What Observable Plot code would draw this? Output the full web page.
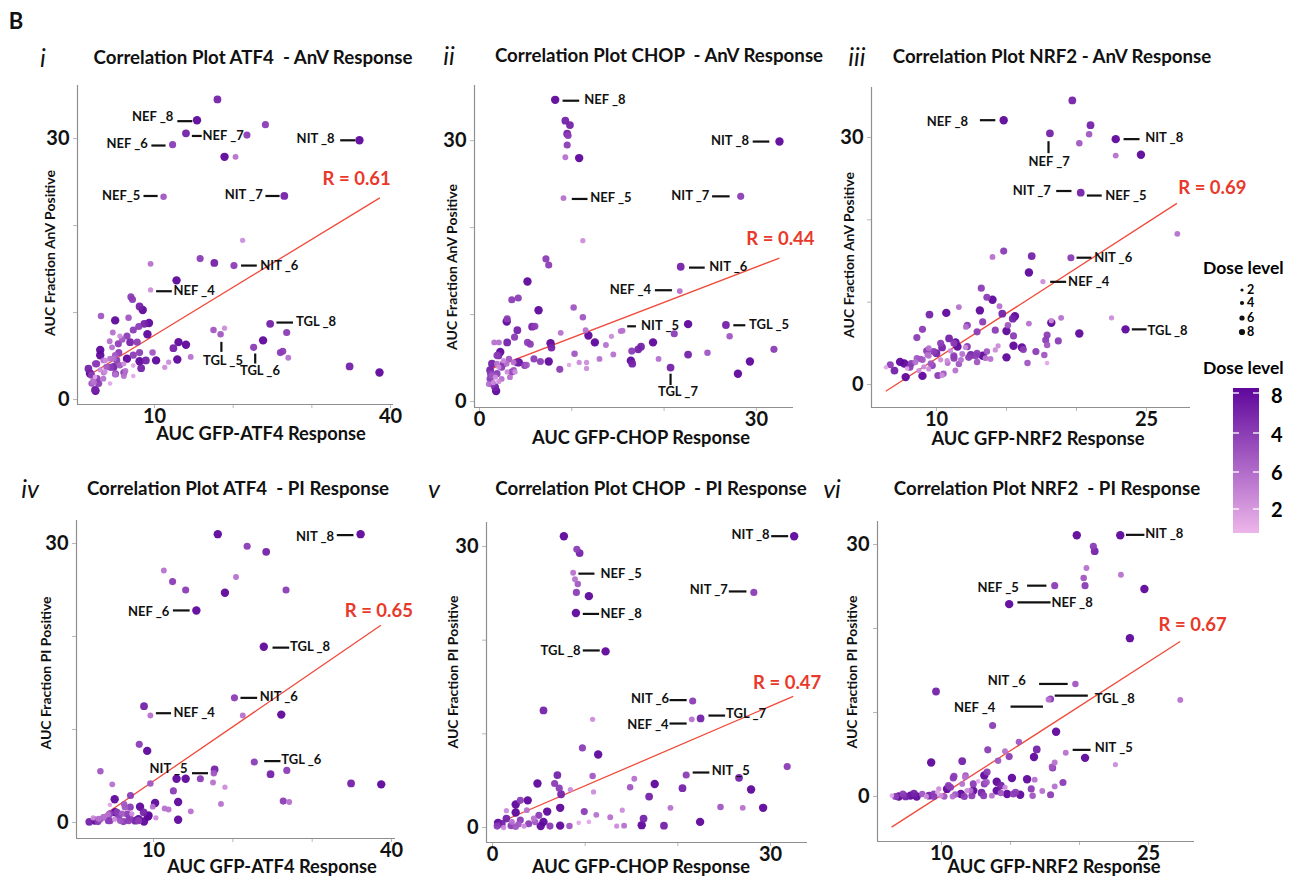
<!DOCTYPE html>
<html><head><meta charset="utf-8">
<script src="https://cdn.jsdelivr.net/npm/d3@7"></script>
<script src="https://cdn.jsdelivr.net/npm/@observablehq/plot@0.6"></script>
<style>
body{margin:0;background:#fff;}
#fig{position:relative;width:1291px;height:876px;overflow:hidden;font-family:Lato,"Open Sans",sans-serif;color:#111;}
.t{position:absolute;white-space:pre;transform:translate(-50%,-50%);font-weight:700;line-height:1;}
.rot{transform:translate(-50%,-50%) rotate(-90deg);}
.num{font-style:italic;font-weight:400;}
.panel{position:absolute;}
</style></head><body><div id="fig"></div><script>
// ---------------- data: [x, y, dose level] ----------------
const atf4AnV = [[18.0,34.5,7],[15.4,32.1,8],[24.1,31.6,6],[14.0,30.6,7],[21.75,30.4,6],[12.3,29.3,6],[36.05,29.8,8],[18.9,27.9,8],[20.3,27.9,4],[11.15,23.3,5],[26.5,23.4,7],[21.2,18.3,3],[15.8,16.2,6],[17.6,15.7,7],[9.5,15.6,4],[20.1,15.4,6],[12.8,13.7,8],[9.5,12.6,3],[7.0,11.8,6],[7.2,11.5,6],[8.1,10.7,7],[8.5,10.3,8],[3.2,9.6,5],[5.0,9.1,8],[6.7,9.4,5],[9.3,8.8,8],[8.7,8.7,7],[8.0,8.4,6],[7.3,8.0,6],[24.7,8.7,7],[17.5,8.0,5],[18.9,8.2,3],[18.4,7.5,5],[26.8,7.7,6],[9.1,7.5,8],[4.7,7.7,4],[6.5,7.3,6],[5.6,7.3,3],[4.3,6.7,4],[5.4,6.4,6],[5.9,6.9,5],[6.9,6.6,7],[7.8,6.6,6],[13.05,6.6,8],[14.0,6.3,8],[12.4,5.9,7],[23.8,6.8,8],[22.6,6.0,6],[26.0,5.4,6],[26.3,5.55,6],[27.0,4.8,4],[9.75,5.4,5],[8.1,5.4,6],[3.1,5.7,8],[3.1,5.1,8],[5.0,5.1,5],[10.2,4.5,8],[12.9,4.6,8],[14.6,4.9,4],[11.8,4.3,3],[11.3,3.7,3],[8.1,4.4,8],[8.9,4.5,7],[8.3,3.6,7],[7.3,3.9,2],[6.1,4.1,3],[6.3,3.3,4],[6.1,2.7,4],[7.3,2.7,2],[5.0,2.9,4],[34.8,3.8,7],[38.6,3.1,8],[2.45,1.15,7],[2.2,2.2,4],[2.0,2.8,6],[2.65,4.1,6],[3.5,4.5,4],[3.9,3.75,5],[3.1,3.4,3],[4.35,4.7,4],[4.8,3.75,7],[2.9,1.85,6],[1.8,3.0,8],[1.6,3.55,7],[2.45,2.6,2],[3.7,3.2,3],[4.35,1.85,2],[5.2,4.5,6],[5.6,3.95,5],[3.5,2.4,4],[2.0,1.85,5],[2.5,1.0,8],[2.3,2.0,4],[2.7,2.4,6],[2.5,4.1,6],[3.77,4.5,3],[4.4,3.7,6],[4.8,4.7,4],[5.04,2.95,6],[5.46,5.4,6],[6.1,3.1,6],[6.5,4.7,8],[7.3,5.1,6],[4.6,6.0,4],[3.55,3.1,4]];
const chopAnV = [[8.2,34.7,8],[9.3,32.3,7],[9.8,31.8,7],[9.5,30.8,7],[9.6,30.6,6],[9.5,29.5,6],[9.3,28.1,4],[10.8,28.0,8],[32.5,29.9,8],[9.1,23.4,4],[28.3,23.6,6],[11.2,18.5,3],[7.2,16.4,6],[7.5,15.7,6],[21.8,15.5,7],[21.7,12.7,4],[5.2,13.8,8],[3.5,11.7,6],[4.2,11.9,6],[10.2,10.8,5],[6.4,10.5,8],[11.2,9.7,5],[3.0,9.5,6],[2.95,9.2,8],[5.7,8.6,7],[6.0,8.65,6],[4.1,8.2,7],[11.5,8.2,4],[8.8,7.9,4],[11.8,7.6,8],[3.8,7.4,6],[1.6,6.8,4],[2.1,6.8,4],[3.0,6.8,7],[5.2,6.8,6],[5.5,6.6,6],[7.7,6.7,8],[7.8,6.2,7],[12.5,6.8,8],[13.7,6.5,4],[14.3,7.5,3],[15.3,8.1,4],[15.5,8.15,4],[22.6,8.9,8],[21.1,7.8,6],[26.7,8.8,7],[27.1,7.5,5],[18.8,6.8,8],[17.5,6.3,7],[17.2,6.0,7],[16.5,5.8,6],[16.4,4.7,8],[16.55,4.35,7],[14.5,5.4,4],[13.0,4.9,4],[10.3,5.5,5],[10.8,4.5,3],[11.6,4.5,3],[11.6,3.8,3],[9.7,4.2,2],[8.7,3.7,6],[7.5,4.6,8],[6.6,4.6,6],[5.9,4.9,6],[5.1,4.2,5],[4.9,4.15,6],[4.1,4.5,7],[19.4,4.9,4],[20.7,3.9,7],[22.6,5.4,7],[24.7,5.6,5],[28.0,3.2,8],[29.3,4.6,8],[31.9,6.0,6],[1.8,1.2,8],[1.7,1.65,7],[1.35,4.35,7],[1.9,3.2,6],[1.15,2.6,6],[1.0,2.0,4],[2.25,5.7,8],[2.05,5.3,7],[2.6,4.7,3],[2.95,4.35,4],[3.3,2.8,4],[3.7,3.6,5],[3.85,3.4,3],[1.15,3.6,7],[1.5,2.2,3],[2.4,3.95,6],[1.9,4.35,4],[1.35,3.0,5],[2.4,2.6,4],[1.37,2.0,6],[1.19,3.2,6],[1.9,5.3,6],[2.1,3.96,3],[2.6,4.35,6],[3.0,3.4,3],[3.5,3.4,6],[3.7,4.5,4],[1.73,2.8,3],[2.1,2.3,3],[4.26,4.5,8],[3.2,4.9,5]];
const nrf2AnV = [[19.7,34.5,7],[14.8,32.1,8],[21.0,31.5,7],[18.1,30.5,7],[20.9,30.4,5],[20.2,29.3,5],[22.8,29.8,8],[22.8,27.8,4],[24.6,27.9,8],[20.3,23.3,7],[27.2,18.3,4],[14.8,16.2,6],[14.0,15.5,4],[16.8,15.6,7],[19.6,15.4,6],[16.6,13.6,8],[17.6,12.5,3],[13.2,11.7,6],[13.6,10.6,6],[14.0,10.3,8],[14.5,9.5,4],[11.6,9.4,4],[9.5,8.5,7],[10.7,8.7,8],[13.1,9.0,8],[14.7,8.6,7],[15.6,8.3,8],[15.45,8.0,7],[16.6,7.4,4],[18.2,7.5,8],[18.2,7.75,3],[18.9,8.1,4],[22.5,8.1,3],[23.5,6.7,8],[20.2,6.2,8],[13.3,7.6,6],[12.2,7.2,6],[12.1,7.0,4],[14.2,6.6,6],[15.0,6.5,8],[15.1,7.2,5],[12.9,6.4,6],[15.5,5.9,6],[17.9,6.0,6],[17.8,5.4,6],[18.7,5.3,6],[9.0,6.7,6],[8.6,5.7,6],[10.9,5.6,7],[10.3,5.0,6],[11.25,5.0,6],[9.45,4.4,4],[11.5,4.6,8],[15.5,4.7,8],[16.1,4.5,8],[16.2,4.25,6],[17.9,4.8,5],[17.1,4.0,6],[17.7,3.6,5],[14.4,4.7,3],[14.2,4.2,3],[13.6,4.0,5],[12.9,3.8,6],[12.45,3.6,7],[15.0,3.3,8],[13.5,3.2,4],[12.9,2.75,5],[16.5,2.6,5],[17.9,2.6,2],[6.7,2.4,6],[7.0,1.7,7],[7.4,2.75,8],[7.7,2.55,8],[7.8,0.9,8],[8.2,2.55,6],[9.0,1.05,8],[10.1,1.1,6],[10.5,1.3,5],[8.6,3.2,5],[9.35,3.6,4],[9.8,4.0,6],[10.3,3.0,3],[10.8,2.6,4],[11.25,3.2,6],[11.75,3.0,4],[9.1,2.15,3],[7.9,1.95,2],[9.6,2.55,5],[6.4,2.1,2],[12.2,4.6,6],[8.1,2.1,6],[8.5,2.7,4],[8.85,3.1,5],[9.3,4.1,6],[9.45,3.5,4],[9.7,2.3,6],[10.4,4.5,7],[10.76,2.9,3],[11.0,4.1,3],[11.24,3.5,6],[11.36,5.1,8],[11.6,2.5,5],[11.84,3.7,4],[12.07,4.5,3],[12.3,3.3,6],[12.8,3.5,6],[13.3,3.5,8],[13.86,3.1,4],[10.4,1.1,3],[11.35,1.7,4],[8.75,1.7,3],[9.45,1.9,3],[10.0,3.8,7],[9.0,3.0,5]];
const atf4PI = [[18.1,31.0,8],[36.1,31.0,8],[21.8,29.7,6],[24.2,29.1,7],[11.3,27.1,4],[12.4,25.9,6],[20.4,26.4,4],[14.05,25.0,6],[26.7,25.0,6],[19.0,24.7,8],[15.4,22.8,8],[23.9,18.9,8],[20.2,13.4,6],[8.8,12.5,7],[9.6,11.5,4],[21.25,11.5,4],[26.1,11.6,8],[8.2,8.4,6],[9.2,7.7,8],[22.7,6.5,6],[24.75,5.2,7],[26.8,5.6,6],[3.3,5.5,5],[17.7,5.7,7],[17.6,5.3,5],[12.9,4.7,8],[14.05,4.7,8],[15.9,4.7,6],[17.5,4.3,4],[19.0,3.8,3],[9.6,4.2,5],[4.8,4.1,4],[34.9,4.2,7],[38.7,4.1,8],[12.5,3.4,6],[7.1,2.9,6],[5.1,2.5,8],[10.2,2.1,8],[13.1,2.2,8],[18.5,2.0,4],[26.35,2.3,6],[27.1,2.2,4],[4.5,1.9,2],[6.3,1.95,5],[8.3,1.7,8],[8.75,1.1,7],[9.3,0.65,8],[9.9,1.7,4],[11.4,1.5,4],[11.9,1.4,4],[14.7,1.2,4],[10.3,0.5,3],[13.1,0.3,8],[6.7,0.9,6],[5.4,1.1,6],[1.9,0.07,7],[2.6,0.2,8],[3.3,0.35,5],[3.7,0.6,4],[4.5,0.2,6],[5.1,0.35,3],[5.8,0.2,5],[6.2,0.1,6],[7.7,0.2,7],[8.1,0.35,8],[4.3,0.9,4],[2.4,0.5,3],[3.0,0.1,6],[7.0,0.5,6],[8.8,0.1,8],[3.07,0.4,4],[3.7,0.57,5],[4.3,0.2,6],[4.5,0.93,6],[5.17,1.1,8],[5.6,0.57,6],[6.0,0.93,5],[6.85,0.2,6],[7.26,0.93,3],[8.1,0.2,6],[9.37,0.75,8],[7.06,1.65,6],[6.4,1.65,5]];
const chopPI = [[7.7,31.1,8],[32.55,31.1,8],[9.1,29.7,6],[9.4,29.3,7],[8.7,27.2,4],[8.9,26.5,4],[9.2,26.0,5],[9.05,25.1,6],[10.4,24.7,8],[28.2,25.1,6],[9.0,22.9,8],[12.2,18.8,8],[21.6,13.5,6],[5.5,12.5,7],[10.8,11.55,3],[21.5,11.55,4],[22.45,11.65,7],[9.7,8.5,6],[11.4,7.8,8],[31.8,6.5,6],[20.9,5.6,6],[26.6,5.3,7],[7.0,5.6,7],[10.8,5.5,5],[4.85,4.7,8],[6.7,4.7,6],[7.2,4.2,6],[7.4,3.55,7],[8.4,4.05,3],[10.9,3.8,3],[15.3,5.2,4],[14.85,4.3,5],[17.5,4.65,8],[16.9,3.3,7],[20.5,4.2,7],[27.9,4.05,8],[24.6,2.2,5],[27.0,2.1,4],[29.2,2.1,8],[19.2,2.1,4],[22.4,0.6,8],[18.5,0.2,7],[16.1,0.25,8],[16.3,0.95,7],[14.2,0.2,4],[13.4,0.15,3],[14.0,1.85,3],[12.7,1.1,4],[11.2,1.35,4],[10.4,0.6,2],[9.3,0.5,2],[9.9,1.7,6],[8.3,0.15,5],[7.3,2.1,8],[7.3,0.2,8],[5.9,1.7,8],[5.5,0.6,8],[5.2,0.15,8],[6.2,0.15,6],[2.5,2.45,8],[3.0,2.9,6],[3.8,2.9,8],[2.5,1.6,8],[3.7,1.85,4],[5.0,1.3,6],[4.6,0.6,5],[1.5,1.8,3],[0.5,0.15,6],[1.0,0.4,7],[1.5,0.96,7],[2.1,0.6,4],[2.5,0.07,5],[3.0,0.8,6],[3.4,0.15,3],[3.9,0.4,6],[4.45,0.96,4],[1.2,0.0,3],[0.6,0.5,8],[2.0,0.2,6],[2.8,0.35,5]];
const nrf2PI = [[19.8,31.1,8],[22.95,31.1,8],[21.0,29.8,6],[21.1,29.2,7],[20.5,27.2,4],[23.0,26.4,4],[20.3,26.0,5],[18.2,25.1,6],[20.4,25.1,6],[24.7,24.7,8],[14.9,22.9,8],[23.65,18.85,8],[19.7,13.4,5],[17.9,11.6,6],[17.75,11.55,4],[27.3,11.5,4],[9.6,12.5,7],[13.7,8.45,6],[18.3,7.7,8],[15.6,6.5,5],[13.35,5.55,6],[14.6,5.4,4],[16.9,5.6,7],[19.0,5.2,4],[20.4,4.6,8],[22.6,3.8,3],[9.25,4.05,8],[11.5,4.2,7],[14.1,4.25,5],[14.9,4.75,6],[16.7,4.7,8],[18.2,4.05,4],[18.05,3.4,6],[18.0,3.55,5],[13.3,2.9,6],[13.1,2.5,8],[11.7,2.3,4],[10.85,2.2,6],[15.1,2.2,8],[16.2,2.05,8],[16.75,2.0,4],[18.8,1.67,6],[14.0,1.75,8],[14.3,1.3,7],[13.1,1.5,6],[12.65,1.8,2],[16.5,0.9,6],[17.3,0.65,4],[18.2,1.2,4],[17.9,0.2,6],[16.6,0.1,5],[15.7,0.2,8],[15.2,0.3,6],[14.75,0.3,8],[14.0,0.7,8],[13.65,0.1,4],[13.05,0.1,6],[12.3,0.7,8],[12.2,0.1,6],[11.85,0.7,3],[11.4,0.3,8],[11.0,0.25,5],[10.4,0.9,8],[10.5,1.3,6],[9.95,0.1,3],[9.7,0.5,2],[9.1,0.1,7],[8.6,0.3,5],[8.2,0.0,8],[7.75,0.1,8],[7.4,0.0,7],[6.9,0.0,8],[6.67,0.0,6],[6.4,0.1,2],[8.9,0.0,3],[9.45,0.0,6],[10.2,0.0,5],[10.8,0.0,4],[11.65,0.0,6],[10.9,2.4,6],[11.74,2.5,5],[11.5,1.5,4],[10.65,1.1,6],[9.8,0.9,3],[12.3,1.5,6],[13.26,1.7,5],[14.6,1.1,3],[12.1,0.7,4],[15.36,0.5,6],[9.44,0.3,6],[8.0,0.35,7],[7.2,0.3,6],[12.9,0.45,7],[14.3,0.4,5]];

// ---------------- point labels: [text, textX, textY, lineX1, lineY1, lineX2, lineY2] ----------------
const atf4AnVLabels = [["NEF _8",12.4,32.5,12.9,32.0,14.8,32.0],["NEF _6",9.15,29.4,9.6,29.2,11.4,29.2],["NEF _7",16.1,30.3,14.75,30.3,16.0,30.3],["NIT _8",32.9,30.0,33.6,29.8,35.5,29.8],["NEF_5",8.2,23.4,8.6,23.4,10.4,23.4],["NIT _7",23.75,23.5,24.1,23.4,25.9,23.4],["NIT _6",23.45,15.4,21.0,15.4,23.0,15.4],["NEF _4",12.4,12.45,10.2,12.45,12.2,12.45],["TGL _8",28.0,8.95,25.5,8.85,27.6,8.85],["TGL _5",18.7,4.5,18.5,6.63,18.5,5.48],["TGL _6",23.4,3.26,22.8,5.29,22.8,4.14]];
const chopAnVLabels = [["NEF _8",11.35,34.7,9.0,34.6,10.8,34.6],["NIT _8",29.2,30.0,29.6,29.9,31.4,29.9],["NEF _5",12.0,23.4,10.0,23.3,11.7,23.3],["NIT _7",24.9,23.7,25.2,23.6,27.1,23.6],["NIT _6",24.9,15.5,22.7,15.4,24.4,15.4],["NEF _4",18.6,12.9,19.0,12.8,20.85,12.8],["NIT _5",17.5,8.65,16.0,8.65,16.95,8.65],["TGL _5",29.2,8.77,27.5,8.77,28.8,8.77],["TGL _7",21.5,1.15,20.7,3.2,20.7,1.9]];
const nrf2AnVLabels = [["NEF _8",12.26,31.9,13.1,32.1,14.2,32.1],["NIT _8",24.9,30.0,23.36,29.8,24.5,29.8],["NEF _7",18.05,27.0,18.0,29.55,18.0,28.1],["NIT _7",18.17,23.5,18.55,23.5,19.64,23.5],["NEF _5",22.05,22.9,20.74,22.95,21.8,22.95],["NIT _6",21.26,15.4,20.0,15.4,21.07,15.4],["NEF _4",19.4,12.47,18.12,12.47,19.26,12.47],["TGL _8",25.07,6.5,23.95,6.7,25.0,6.7]];
const atf4PILabels = [["NIT _8",32.76,30.7,33.1,30.9,35.2,30.9],["NEF _6",12.0,22.7,12.44,22.8,14.55,22.8],["TGL _8",27.2,18.9,25.0,18.8,27.1,18.8],["NIT _6",23.4,13.5,20.96,13.4,23.06,13.4],["NEF _4",12.53,11.75,10.3,11.75,12.2,11.75],["TGL _6",26.1,6.7,23.95,6.6,26.0,6.6],["NIT _5",14.3,5.75,14.85,5.3,16.87,5.3]];
const chopPILabels = [["NIT _8",29.9,31.25,30.07,31.1,31.9,31.1],["NEF _5",11.64,27.1,9.27,27.1,11.0,27.1],["NIT _7",25.4,25.4,25.5,25.2,27.4,25.2],["NEF _8",11.64,22.8,9.74,22.8,11.5,22.8],["TGL _8",9.5,18.9,9.74,18.9,11.57,18.9],["NIT _6",19.05,13.7,19.1,13.6,20.95,13.6],["NEF _4",19.0,11.0,19.1,11.1,20.95,11.1],["TGL _7",25.2,12.1,23.3,11.95,25.1,11.95],["NIT _5",23.65,6.0,21.6,5.87,23.4,5.87]];
const nrf2PILabels = [["NIT _8",24.76,31.3,23.36,31.15,24.7,31.15],["NEF _5",15.6,24.9,16.2,25.1,17.6,25.1],["NEF _8",17.96,23.05,15.5,23.1,17.9,23.1],["NIT _6",16.1,13.8,17.07,13.4,19.14,13.4],["TGL _8",21.1,11.6,18.2,12.0,20.6,12.0],["NEF _4",13.9,10.5,15.0,10.7,17.35,10.7],["NIT _5",21.1,5.75,19.5,5.55,20.8,5.55]];

// ---------------- fitted lines [x1,y1,x2,y2] and R values ----------------
const fitLines = {atf4AnV:[2.02,3.0,38.64,23.18], chopAnV:[0.98,3.65,32.5,16.5], nrf2AnV:[6.38,-0.81,27.17,22.0], atf4PI:[2.2,-0.1,38.66,21.2], chopPI:[0.51,0.43,32.45,14.0], nrf2PI:[6.38,-3.65,27.29,18.45]};
const rValues = {atf4AnV:0.61, chopAnV:0.44, nrf2AnV:0.69, atf4PI:0.65, chopPI:0.47, nrf2PI:0.67};
const rPos = {atf4AnV:[35.7,25.4], chopAnV:[32.6,18.7], nrf2AnV:[29.7,23.8], atf4PI:[38.4,22.7], chopPI:[31.8,15.4], nrf2PI:[28.2,20.4]};

// ---------------- tick labels ----------------
const ticksATF4 = [10,20,30,40], labelsATF4 = [10,40];
const ticksCHOP = [0,10,20,30], labelsCHOP = [0,30];
const ticksNRF2 = [10,15,20,25], labelsNRF2 = [10,25];
const ticksY = [0,10,20,30], labelsY = [0,30];

const doseLevels = [2,4,6,8];
const colorbarLabels = ["8","4","6","2"];

const fig = document.getElementById("fig");
function txt(s, cx, cy, size, cls=""){
  const d=document.createElement("div"); d.className="t "+cls; d.textContent=s;
  d.style.left=cx+"px"; d.style.top=cy+"px"; d.style.fontSize=size+"px"; fig.appendChild(d);
}

const panels = [
  {key:"atf4AnV", pts:atf4AnV, labels:atf4AnVLabels, frame:[77,393,85,404], xDomain:[0.21,40.38], yDomain:[-0.57,36.1], xTicks:ticksATF4, xLab:labelsATF4},
  {key:"chopAnV", pts:chopAnV, labels:chopAnVLabels, frame:[474,793,85,407], xDomain:[-0.54,34.02], yDomain:[-0.69,36.35], xTicks:ticksCHOP, xLab:labelsCHOP},
  {key:"nrf2AnV", pts:nrf2AnV, labels:nrf2AnVLabels, frame:[871,1190,87,407], xDomain:[5.36,28.14], yDomain:[-2.79,36.07], xTicks:ticksNRF2, xLab:labelsNRF2},
  {key:"atf4PI", pts:atf4PI, labels:atf4PILabels, frame:[76,395,520,838], xDomain:[0.29,40.5], yDomain:[-1.72,32.47], xTicks:ticksATF4, xLab:labelsATF4},
  {key:"chopPI", pts:chopPI, labels:chopPILabels, frame:[486,807,522,842], xDomain:[-0.65,33.99], yDomain:[-1.6,32.56], xTicks:ticksCHOP, xLab:labelsCHOP},
  {key:"nrf2PI", pts:nrf2PI, labels:nrf2PILabels, frame:[877,1194,521,841], xDomain:[5.36,28.33], yDomain:[-5.36,32.74], xTicks:ticksNRF2, xLab:labelsNRF2}
];

const ML=45, MR=80, MT=10, MB=35;
for (const p of panels){
  const fw=p.frame[1]-p.frame[0], fh=p.frame[3]-p.frame[2];
  const pts=p.pts.map(([x,y,dose])=>({x,y,dose}));
  const labs=p.labels.map(([text,tx,ty,x1,y1,x2,y2])=>({text,tx,ty,x1,y1,x2,y2,anchor:x1===x2?"middle":(tx<=x1?"end":"start")}));
  const f=fitLines[p.key];
  const fit=[{x1:f[0],y1:f[1],x2:f[2],y2:f[3]}];
  const rl=[{x:rPos[p.key][0],y:rPos[p.key][1],text:"R = "+rValues[p.key].toFixed(2)}];
  const lt={fontSize:13,fontWeight:"bold",fill:"#111"};
  const svg=Plot.plot({
    width:ML+fw+MR, height:MT+fh+MB,
    marginLeft:ML, marginRight:MR, marginTop:MT, marginBottom:MB,
    style:{background:"transparent",overflow:"visible",fontFamily:"Lato, 'Open Sans', sans-serif"},
    x:{domain:p.xDomain,label:null},
    y:{domain:p.yDomain,label:null},
    r:{type:"linear",domain:[2,8],range:[2.3,4.2]},
    color:{type:"linear",domain:[2,8],range:["#e2a6e7","#5f079c"]},
    marks:[
      Plot.axisX({ticks:p.xTicks,tickFormat:d=>p.xLab.includes(d)?String(d):"",tickSize:4,tickPadding:0,stroke:"#b8b8b8",fill:"#111",fontSize:20,fontWeight:"bold",label:null}),
      Plot.axisY({ticks:ticksY,tickFormat:d=>labelsY.includes(d)?String(d):"",tickSize:4,tickPadding:4,stroke:"#b8b8b8",fill:"#111",fontSize:20,fontWeight:"bold",label:null}),
      Plot.ruleX([p.xDomain[0]],{stroke:"#8f8f8f",strokeWidth:1.2}),
      Plot.ruleY([p.yDomain[0]],{stroke:"#8f8f8f",strokeWidth:1.2}),
      Plot.link(fit,{x1:"x1",y1:"y1",x2:"x2",y2:"y2",stroke:"#f04a3a",strokeWidth:1.3}),
      Plot.dot(pts,{x:"x",y:"y",r:"dose",fill:"dose",fillOpacity:0.95}),
      Plot.link(labs,{x1:"x1",y1:"y1",x2:"x2",y2:"y2",stroke:"#111",strokeWidth:2.2}),
      Plot.text(labs.filter(d=>d.anchor==="end"),{x:"tx",y:"ty",text:"text",textAnchor:"end",...lt}),
      Plot.text(labs.filter(d=>d.anchor==="start"),{x:"tx",y:"ty",text:"text",textAnchor:"start",...lt}),
      Plot.text(labs.filter(d=>d.anchor==="middle"),{x:"tx",y:"ty",text:"text",textAnchor:"middle",...lt}),
      Plot.text(rl,{x:"x",y:"y",text:"text",fill:"#e8392b",fontSize:18.5,fontWeight:"bold"})
    ]
  });
  svg.classList.add("panel");
  svg.style.left=(p.frame[0]-ML)+"px";
  svg.style.top=(p.frame[2]-MT)+"px";
  fig.appendChild(svg);
}

// ---------------- texts ----------------
txt("B",16,21,22);
const numerals=[["i",43,57],["ii",449,55],["iii",857,56],["iv",30,488],["v",434,488],["vi",832,488]];
for (const [s,x,y] of numerals) txt(s,x,y,25,"num");
const titles=[["Correlation Plot ATF4  - AnV Response",253,57],["Correlation Plot CHOP  - AnV Response",659,55],["Correlation Plot NRF2 - AnV Response",1052,56],["Correlation Plot ATF4  - PI Response",238,488],["Correlation Plot CHOP  - PI Response",651,488],["Correlation Plot NRF2  - PI Response",1047,488]];
for (const [s,x,y] of titles) txt(s,x,y,18.7);
const yTitles=[["AUC Fraction AnV Positive",50,253],["AUC Fraction AnV Positive",452,267],["AUC Fraction AnV Positive",849,255],["AUC Fraction PI Positive",46,673],["AUC Fraction PI Positive",453,672],["AUC Fraction PI Positive",852,672]];
for (const [s,x,y] of yTitles) txt(s,x,y,14,"rot");
const xTitles=[["AUC GFP-ATF4 Response",261,433],["AUC GFP-CHOP Response",641,437],["AUC GFP-NRF2 Response",1038,438],["AUC GFP-ATF4 Response",272,866],["AUC GFP-CHOP Response",641,866],["AUC GFP-NRF2 Response",1054,866]];
for (const [s,x,y] of xTitles) txt(s,x,y,18.3);

// ---------------- legends ----------------
const lg=d3.select(fig).append("svg").attr("class","panel").style("left","1190px").style("top","250px")
  .attr("width",101).attr("height",300).style("font-family","Lato, sans-serif").style("font-weight","bold");
const ox=1190, oy=250;
lg.append("text").attr("x",1203-ox).attr("y",268-oy).attr("dy","0.35em").attr("font-size",17.5).text("Dose level");
const rs=d3.scaleLinear().domain([2,8]).range([1.6,3.1]);
const ys=[290,303,318,332];
doseLevels.forEach((d,i)=>{
  lg.append("circle").attr("cx",1242-ox).attr("cy",ys[i]-oy).attr("r",rs(d)).attr("fill","#111");
  lg.append("text").attr("x",1247-ox).attr("y",ys[i]-oy).attr("dy","0.35em").attr("font-size",12.5).text(d);
});
lg.append("text").attr("x",1203-ox).attr("y",368-oy).attr("dy","0.35em").attr("font-size",17.5).text("Dose level");
const grad=lg.append("defs").append("linearGradient").attr("id","cb").attr("x1",0).attr("y1",0).attr("x2",0).attr("y2",1);
grad.append("stop").attr("offset","0%").attr("stop-color","#5f079c");
grad.append("stop").attr("offset","100%").attr("stop-color","#edb6ea");
lg.append("rect").attr("x",1233-ox).attr("y",388-oy).attr("width",26).attr("height",145).attr("fill","url(#cb)");
const cby=[393,433,472,509], cbl=[396,435,473,510];
colorbarLabels.forEach((s,i)=>{
  lg.append("line").attr("x1",1233-ox).attr("x2",1239-ox).attr("y1",cby[i]-oy).attr("y2",cby[i]-oy).attr("stroke","#fff").attr("stroke-width",1.3);
  lg.append("line").attr("x1",1253-ox).attr("x2",1259-ox).attr("y1",cby[i]-oy).attr("y2",cby[i]-oy).attr("stroke","#fff").attr("stroke-width",1.3);
  lg.append("text").attr("x",1271-ox).attr("y",cbl[i]-oy).attr("dy","0.35em").attr("font-size",20).text(s);
});
</script></body></html>
